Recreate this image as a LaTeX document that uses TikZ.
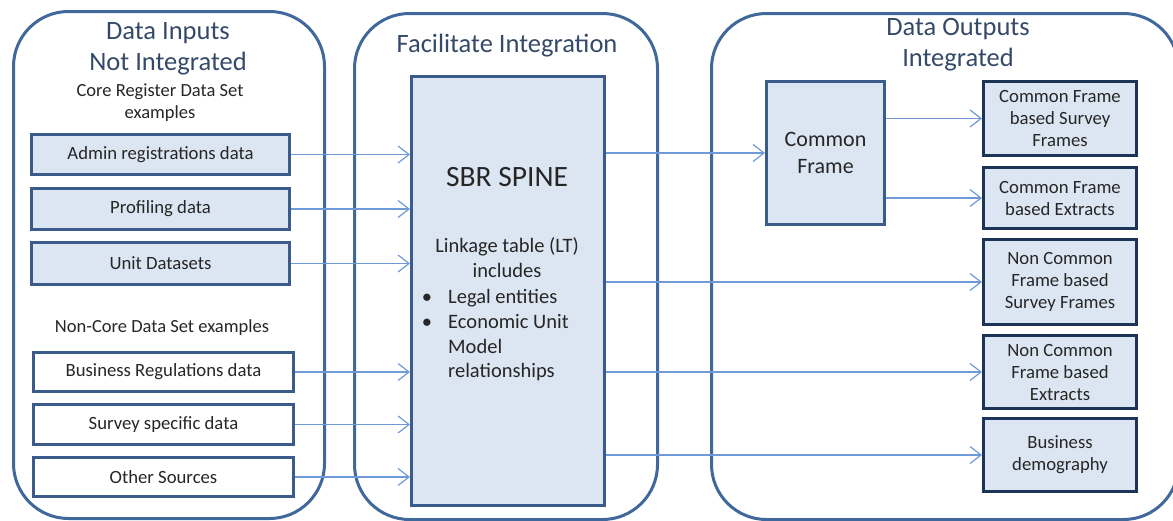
\documentclass[tikz,border=0pt]{standalone}
\usepackage{fontspec}
\setmainfont{Carlito}
\usetikzlibrary{arrows.meta}
\definecolor{panelc}{RGB}{64,104,155}
\definecolor{boxfill}{RGB}{220,230,242}
\definecolor{boxline}{RGB}{59,92,138}
\definecolor{darkline}{RGB}{28,52,88}
\definecolor{arrowc}{RGB}{110,155,215}
\definecolor{titlec}{RGB}{52,74,104}
\begin{document}
\begin{tikzpicture}[x=1pt,y=-1pt,
  panel/.style={draw=panelc,line width=3pt,rounded corners=55pt,anchor=north west,inner sep=0pt},
  title/.style={text=titlec,font=\fontsize{26.5}{31}\selectfont,align=center},
  lbl/.style={text=black!85,font=\fontsize{18.5}{22}\selectfont,align=center},
  splbl/.style={lbl,font=\fontsize{20.5}{25}\selectfont},
  inbox/.style={draw=boxline,line width=3pt,fill=boxfill,anchor=north west,inner sep=0pt,
     font=\fontsize{18.7}{22}\selectfont,align=center,text=black!85},
  ncbox/.style={inbox,fill=white},
  outbox/.style={inbox,draw=darkline},
  flow/.style={draw=arrowc,line width=1.2pt,-{Straight Barb[length=11pt,width=17pt,line width=1.2pt]}}
]
\useasboundingbox (0,0) rectangle (1173,520);
% panels
\node[panel,minimum width=311pt,minimum height=507pt] (pin) at (12,10) {};
\node[panel,minimum width=303pt,minimum height=506pt] (pmid) at (353,12) {};
\node[panel,minimum width=467pt,minimum height=506pt] (pout) at (710,12) {};
% titles
\node[title] (tin) at (168,49) {Data Inputs\\Not Integrated};
\node[title] (tmid) at (507,46) {Facilitate Integration};
\node[title] (tout) at (958,45) {Data Outputs\\Integrated};
\node[lbl] (core) at (160,103) {Core Register Data Set\\examples};
\node[lbl] (noncore) at (162,328) {Non-Core Data Set examples};
% input boxes
\node[inbox,minimum width=258pt,minimum height=40pt] (admin) at (30,133) {Admin registrations data};
\node[inbox,minimum width=258pt,minimum height=41pt] (prof) at (30,187) {Profiling data};
\node[inbox,minimum width=258pt,minimum height=42pt] (unit) at (30,241) {Unit Datasets};
\node[ncbox,minimum width=260pt,minimum height=39pt] (biz) at (32,351) {Business Regulations data};
\node[ncbox,minimum width=260pt,minimum height=40pt] (surv) at (32,403) {Survey specific data};
\node[ncbox,minimum width=260pt,minimum height=39pt] (other) at (32,456) {Other Sources};
% spine
\node[inbox,minimum width=193pt,minimum height=429pt] (spine) at (410,75) {};
\node[lbl,font=\fontsize{29.5}{34}\selectfont,anchor=base] (sbr) at (507,186) {SBR SPINE};
\node[splbl,anchor=base] (lt1) at (507,252) {Linkage table (LT)};
\node[splbl,anchor=base] (lt2) at (507,277) {includes};
\node[splbl,anchor=base] (b1) at (427,303) {\textbullet};
\node[splbl,anchor=base west,inner sep=0pt] (l1) at (448,303) {Legal entities};
\node[splbl,anchor=base] (b2) at (427,328) {\textbullet};
\node[splbl,anchor=base west,inner sep=0pt] (l2) at (448,328) {Economic Unit};
\node[splbl,anchor=base west,inner sep=0pt] (l3) at (448,353) {Model};
\node[splbl,anchor=base west,inner sep=0pt] (l4) at (448,377) {relationships};
% outputs
\node[inbox,minimum width=118pt,minimum height=143pt,font=\fontsize{22}{27}\selectfont] (cf) at (765,80) {Common\\Frame};
\node[outbox,minimum width=153pt,minimum height=74pt] (cfs) at (982,80) {Common Frame\\based Survey\\Frames};
\node[outbox,minimum width=153pt,minimum height=61pt] (cfe) at (982,166) {Common Frame\\based Extracts};
\node[outbox,minimum width=153pt,minimum height=85pt] (ncs) at (982,238) {Non Common\\Frame based\\Survey Frames};
\node[outbox,minimum width=153pt,minimum height=73pt] (nce) at (982,334) {Non Common\\Frame based\\Extracts};
\node[outbox,minimum width=153pt,minimum height=73pt] (bd) at (982,417) {Business\\demography};
% connectors
\foreach \n in {admin,prof,unit,biz,surv,other}
  \draw[flow] (\n.east) -- (\n.east -| spine.west);
\draw[flow] (cf.west -| spine.east) -- (cf.west);
\draw[flow] (ncs.west -| spine.east) -- (ncs.west);
\draw[flow] (nce.west -| spine.east) -- (nce.west);
\draw[flow] (bd.west -| spine.east) -- (bd.west);
\draw[flow] (cfs.west -| cf.east) -- (cfs.west);
\draw[flow] (cfe.west -| cf.east) -- (cfe.west);
\end{tikzpicture}
\end{document}
